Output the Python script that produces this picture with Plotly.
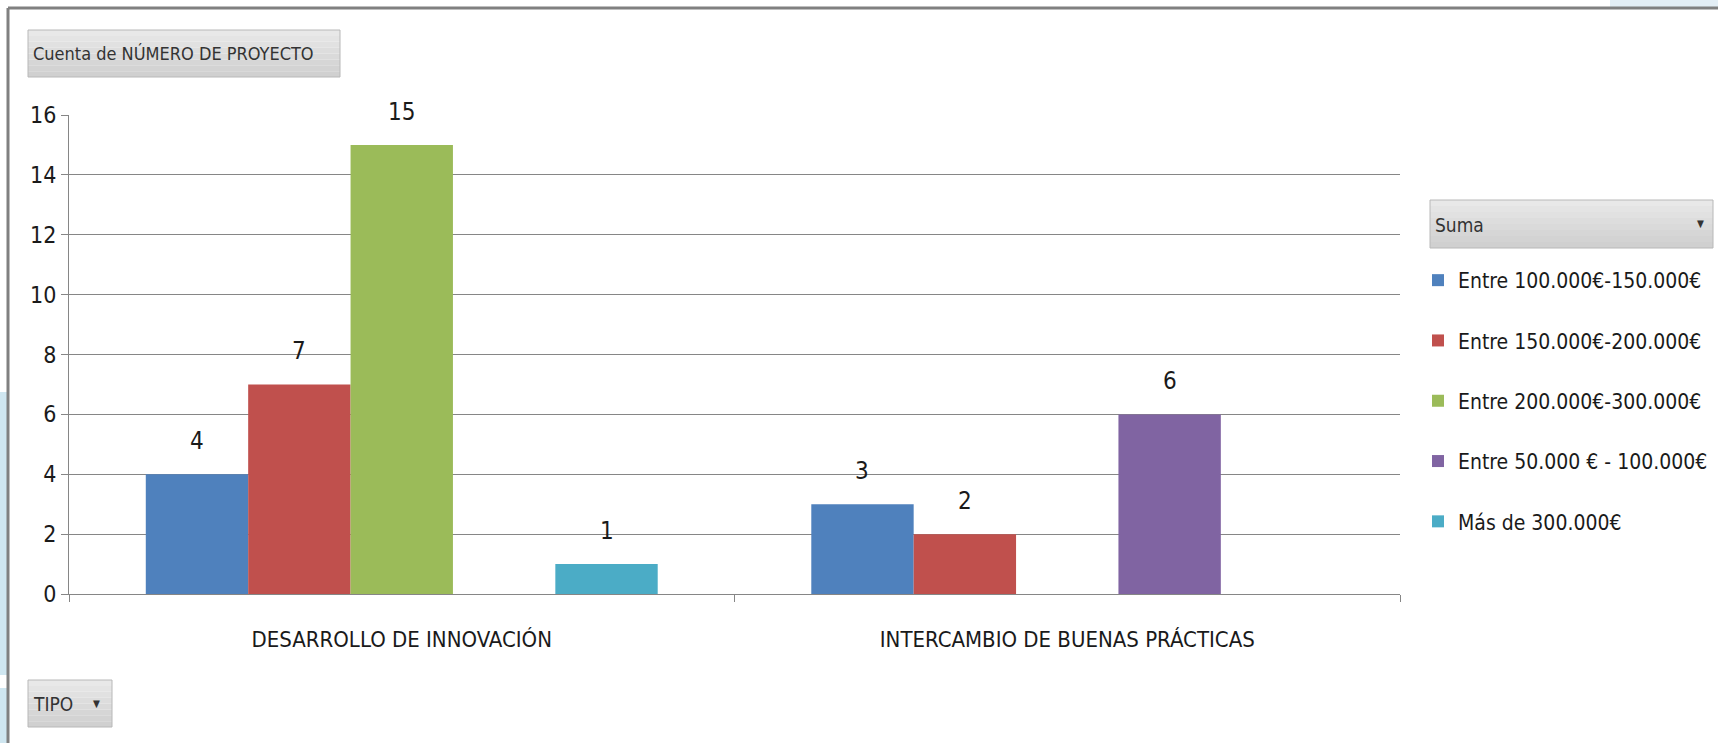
import plotly.graph_objects as go

categories = ["DESARROLLO DE INNOVACIÓN", "INTERCAMBIO DE BUENAS PRÁCTICAS"]
series_names = [
    "Entre 100.000€-150.000€",
    "Entre 150.000€-200.000€",
    "Entre 200.000€-300.000€",
    "Entre 50.000 € - 100.000€",
    "Más de 300.000€",
]
v_100_150 = [4, 3]
v_150_200 = [7, 2]
v_200_300 = [15, None]
v_50_100 = [None, 6]
v_mas_300 = [1, None]
series_values = [v_100_150, v_150_200, v_200_300, v_50_100, v_mas_300]
colors = ["#4F81BD", "#C0504D", "#9BBB59", "#8064A2", "#4BACC6"]
y_ticks = [0, 2, 4, 6, 8, 10, 12, 14, 16]

W, H = 1718, 743
L, R, T, B = 69, 1400, 115, 594
FONT = "Liberation Sans Narrow, DejaVu Sans Condensed, Arial Narrow, sans-serif"
BARGAP = 1.5 / 6.5


def px(x):
    return (x - L) / (R - L)


def py(y):
    return (B - y) / (B - T)


fig = go.Figure()
n_series = len(series_names)
cat_px = (R - L) / len(categories)
bar_px = cat_px * (1 - BARGAP) / n_series
annotations = []
for i, (name, vals) in enumerate(zip(series_names, series_values)):
    fig.add_trace(go.Bar(
        x=categories, y=vals, name=name,
        marker=dict(color=colors[i], line=dict(width=0)),
        cliponaxis=False,
        legendgroup=f"g{i}",
    ))
    # data labels placed above each bar, through the axes' scales
    for cat, v in zip(categories, vals):
        if v is None:
            continue
        annotations.append(dict(
            x=cat, y=v, xref="x", yref="y", text=str(v), showarrow=False,
            xanchor="center", yanchor="middle",
            xshift=(i - (n_series - 1) / 2) * bar_px, yshift=33,
            font=dict(size=24, color="#1a1a1a", family=FONT),
        ))

shapes = []
# light blue background strips outside the frame
shapes.append(dict(type="rect", xref="paper", yref="paper",
                   x0=px(0), x1=px(8), y0=py(675), y1=py(392),
                   fillcolor="#CFE6F0", line=dict(width=0), layer="below"))
shapes.append(dict(type="rect", xref="paper", yref="paper",
                   x0=px(0), x1=px(8), y0=py(743), y1=py(688),
                   fillcolor="#CFE6F0", line=dict(width=0), layer="below"))
shapes.append(dict(type="rect", xref="paper", yref="paper",
                   x0=px(1610), x1=px(1718), y0=py(7), y1=py(0),
                   fillcolor="#E3EEF5", line=dict(width=0), layer="below"))
# frame lines (top and left)
shapes.append(dict(type="line", xref="paper", yref="paper",
                   x0=px(8), x1=px(1718), y0=py(8), y1=py(8),
                   line=dict(color="#808080", width=3)))
shapes.append(dict(type="line", xref="paper", yref="paper",
                   x0=px(8), x1=px(8), y0=py(8), y1=py(743),
                   line=dict(color="#808080", width=3)))


def button(x0, y0, x1, y1):
    n = 8
    out = []
    for k in range(n):
        ya = y0 + (y1 - y0) * k / n
        yb = y0 + (y1 - y0) * (k + 1) / n
        g = int(232 - 24 * k / (n - 1))
        out.append(dict(type="rect", xref="paper", yref="paper",
                         x0=px(x0), x1=px(x1), y0=py(yb), y1=py(ya),
                         fillcolor=f"rgb({g},{g},{g})", line=dict(width=0)))
    out.append(dict(type="rect", xref="paper", yref="paper",
                    x0=px(x0), x1=px(x1), y0=py(y1), y1=py(y0),
                    fillcolor="rgba(0,0,0,0)", line=dict(color="#B8B8B8", width=1)))
    return out


shapes += button(28, 30, 340, 77)
shapes += button(28, 680, 112, 727)
shapes += button(1430, 200, 1713, 248)

annotations += [
    dict(text="Cuenta de NÚMERO DE PROYECTO", xref="paper", yref="paper",
         x=px(31), y=py(54), xanchor="left", yanchor="middle", showarrow=False,
         font=dict(size=18, color="#333333", family=FONT)),
    dict(text="TIPO", xref="paper", yref="paper",
         x=px(31), y=py(704), xanchor="left", yanchor="middle", showarrow=False,
         font=dict(size=19, color="#333333", family=FONT)),
    dict(text="▼", xref="paper", yref="paper",
         x=px(96), y=py(703), xanchor="center", yanchor="middle", showarrow=False,
         font=dict(size=10, color="#333333", family=FONT)),
    dict(text="Suma", xref="paper", yref="paper",
         x=px(1433), y=py(225), xanchor="left", yanchor="middle", showarrow=False,
         font=dict(size=19, color="#333333", family=FONT)),
    dict(text="▼", xref="paper", yref="paper",
         x=px(1700), y=py(223), xanchor="center", yanchor="middle", showarrow=False,
         font=dict(size=10, color="#333333", family=FONT)),
]

fig.update_layout(
    width=W, height=H,
    margin=dict(l=L, r=W - R, t=T, b=H - B, autoexpand=False),
    paper_bgcolor="white", plot_bgcolor="white",
    barmode="group", bargap=BARGAP, bargroupgap=0,
    font=dict(family=FONT, color="#1a1a1a"),
    shapes=shapes, annotations=annotations,
    legend=dict(x=px(1418), y=py(260), xanchor="left", yanchor="top",
                font=dict(size=21, family=FONT, color="#1a1a1a"),
                tracegroupgap=30, traceorder="grouped",
                itemwidth=30, bgcolor="rgba(0,0,0,0)"),
    showlegend=True,
)
fig.update_xaxes(
    type="category", showline=True, linecolor="#868686", linewidth=1,
    ticks="outside", tickson="boundaries", ticklen=7, tickcolor="#868686",
    ticklabelstandoff=26,
    tickfont=dict(size=22, family=FONT, color="#1a1a1a"),
    showgrid=False, zeroline=False,
)
fig.update_yaxes(
    range=[0, 16], tickvals=y_ticks, showline=True, linecolor="#868686", linewidth=1,
    ticks="outside", ticklen=7, tickcolor="#868686",
    showgrid=True, gridcolor="#868686", gridwidth=1, zeroline=False,
    tickfont=dict(size=23, family=FONT, color="#1a1a1a"),
)

fig.write_html("out.html", config={"displayModeBar": False},
               post_script="document.body.style.margin='0';document.body.style.overflow='hidden';")
